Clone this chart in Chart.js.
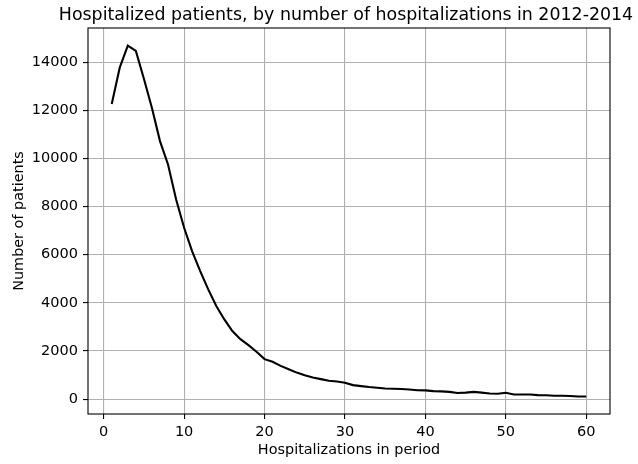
<!DOCTYPE html>
<html>
<head>
<meta charset="utf-8">
<script src="https://cdn.jsdelivr.net/npm/chart.js@4"></script>
<style>
  html, body { margin: 0; padding: 0; background: #fff; }
  #wrap { width: 638px; height: 464px; }
</style>
</head>
<body>
<div id="wrap"><canvas id="chart" width="638" height="464"></canvas></div>
<script>
// hospitalizations per patient over the period (1..60)
const hospCounts = Array.from({ length: 60 }, (_, i) => i + 1);
// number of patients with that many hospitalizations
const patients = [
  12260, 13780, 14690, 14470, 13310, 12100, 10720, 9750, 8300, 7120,
  6140, 5320, 4560, 3870, 3310, 2830, 2490, 2240, 1970, 1660,
  1550, 1380, 1240, 1100, 990, 900, 830, 760, 730, 680,
  580, 540, 500, 470, 440, 430, 420, 400, 370, 360,
  330, 320, 300, 250, 270, 300, 270, 235, 220, 260,
  190, 190, 190, 165, 160, 140, 140, 125, 110, 110
];
const xTicks = [0, 10, 20, 30, 40, 50, 60];
const yTicks = [0, 2000, 4000, 6000, 8000, 10000, 12000, 14000];

const FONT = 'DejaVu Sans';
const GRID = '#b0b0b0';

// box around the plot plus the title above it
const framePlugin = {
  id: 'frame',
  afterDraw(chart) {
    const { ctx, chartArea: a } = chart;
    ctx.save();
    ctx.strokeStyle = '#000';
    ctx.lineWidth = 1.1;
    ctx.strokeRect(a.left, a.top, a.right - a.left, a.bottom - a.top);
    ctx.fillStyle = '#000';
    ctx.font = '17.4px "' + FONT + '"';
    ctx.textAlign = 'center';
    ctx.textBaseline = 'alphabetic';
    ctx.fillText('Hospitalized patients, by number of hospitalizations in 2012-2014', (a.left + a.right) / 2 - 3, 19.5);
    ctx.restore();
  }
};

new Chart(document.getElementById('chart'), {
  type: 'line',
  data: {
    datasets: [{
      data: hospCounts.map((h, i) => ({ x: h, y: patients[i] })),
      borderColor: '#000',
      borderWidth: 2.1,
      pointRadius: 0,
      tension: 0,
      fill: false
    }]
  },
  options: {
    responsive: false,
    animation: false,
    layout: { padding: { left: 0, top: 28, right: 28, bottom: 0 } },
    plugins: { legend: { display: false }, tooltip: { enabled: false } },
    scales: {
      x: {
        type: 'linear',
        min: -1.95,
        max: 62.95,
        afterBuildTicks: s => { s.ticks = xTicks.map(v => ({ value: v })); },
        afterFit: s => { s.height = 50; },
        grid: { color: GRID, lineWidth: 1.1, tickColor: '#000', tickLength: 5 },
        border: { display: false },
        ticks: { color: '#000', font: { family: FONT, size: 14.5 }, padding: 5, maxRotation: 0, callback: v => String(v) },
        title: { display: true, text: 'Hospitalizations in period', color: '#000', font: { family: FONT, size: 14.4 }, padding: { top: 0, bottom: 5 } }
      },
      y: {
        min: -620,
        max: 15420,
        afterBuildTicks: s => { s.ticks = yTicks.map(v => ({ value: v })); },
        afterFit: s => { s.width = 88; },
        grid: { color: GRID, lineWidth: 1.1, tickColor: '#000', tickLength: 5 },
        border: { display: false },
        ticks: { color: '#000', font: { family: FONT, size: 14.5 }, padding: 5, callback: v => String(v) },
        title: { display: true, text: 'Number of patients', color: '#000', font: { family: FONT, size: 14.4 }, padding: { top: 11, bottom: 0 } }
      }
    }
  },
  plugins: [framePlugin]
});
</script>
</body>
</html>
